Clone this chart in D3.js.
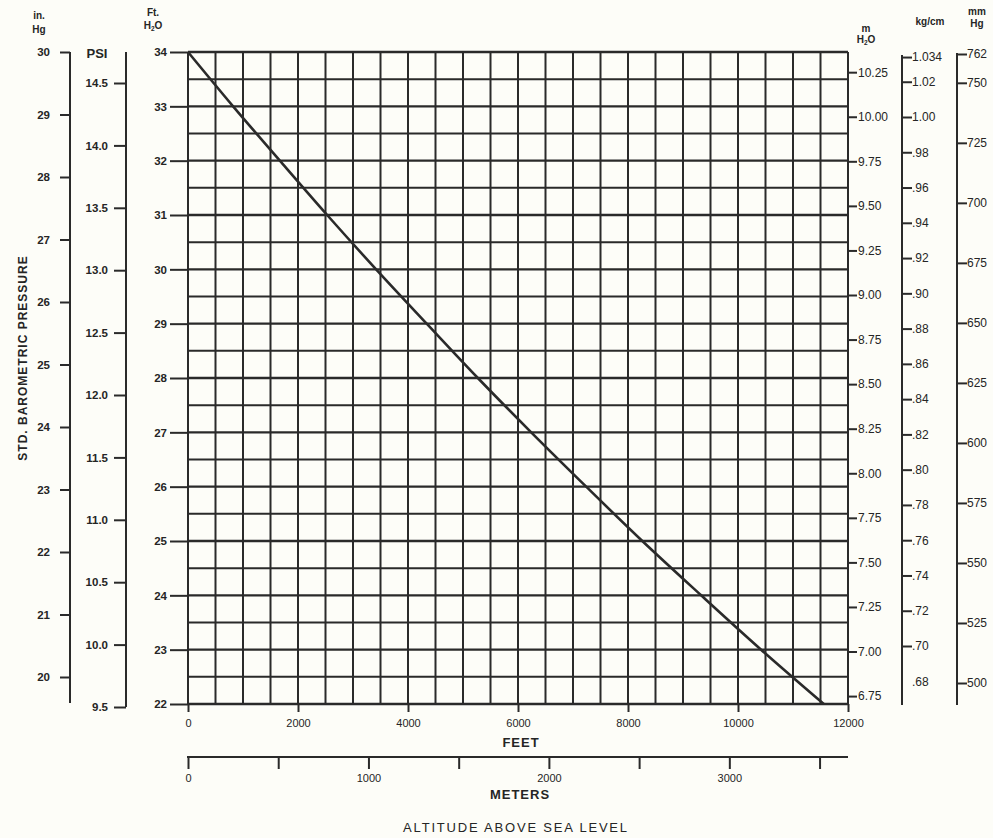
<!DOCTYPE html>
<html>
<head>
<meta charset="utf-8">
<script src="https://cdn.jsdelivr.net/npm/d3@7"></script>
<style>
  body { margin: 0; background: #fdfdf8; }
  svg { display: block; }
  text { font-family: "Liberation Sans", Arial, sans-serif; fill: #252525; }
  .left text { font-weight: bold; font-size: 11.5px; }
  .right text { font-size: 12px; }
  .bottom text { font-size: 11px; }
</style>
</head>
<body>
<script>
// values
var feetTicks = [0, 2000, 4000, 6000, 8000, 10000, 12000];
var meterTicks = [0, 500, 1000, 1500, 2000, 2500, 3000, 3500];
var ftH2OTicks = [22, 23, 24, 25, 26, 27, 28, 29, 30, 31, 32, 33, 34];
var inHgTicks = [20, 21, 22, 23, 24, 25, 26, 27, 28, 29, 30];
var psiTicks = [9.5, 10.0, 10.5, 11.0, 11.5, 12.0, 12.5, 13.0, 13.5, 14.0, 14.5];
var mH2OTicks = [10.25, 10.00, 9.75, 9.50, 9.25, 9.00, 8.75, 8.50, 8.25, 8.00, 7.75, 7.50, 7.25, 7.00, 6.75];
var kgTicks = [1.034, 1.02, 1.00, 0.98, 0.96, 0.94, 0.92, 0.90, 0.88, 0.86, 0.84, 0.82, 0.80, 0.78, 0.76, 0.74, 0.72, 0.70, 0.68];
var mmHgTicks = [762, 750, 725, 700, 675, 650, 625, 600, 575, 550, 525, 500];

// pressure line: altitude (ft) where it crosses each ft H2O line
var curveAltFt = [0, 820, 1670, 2530, 3420, 4340, 5270, 6240, 7240, 8260, 9330, 10420, 11560];
var curveFtH2O = [34, 33, 32, 31, 30, 29, 28, 27, 26, 25, 24, 23, 22];

var W = 993, H = 838;
var ink = "#2a2a2a";

var svg = d3.select("body").append("svg")
    .attr("width", W)
    .attr("height", H)
    .style("background", "#fdfdf8");

var x = d3.scaleLinear().domain([0, 12000]).range([188, 848]);
var xm = d3.scaleLinear().domain([0, 12000 * 0.3048]).range([188, 848]);
var y = d3.scaleLinear().domain([22, 34]).range([704, 52]);
var yIn = d3.scaleLinear().domain([20, 30]).range([677, 52]);
var yPsi = d3.scaleLinear().domain([9.5, 14.5]).range([707, 83]);
var yM = d3.scaleLinear().domain([22 * 0.3048, 34 * 0.3048]).range([704, 52]);
var yKg = d3.scaleLinear().domain([0.70, 1.00]).range([646, 117]);
var yMm = d3.scaleLinear().domain([500, 762]).range([683, 54]);

// grid
var grid = svg.append("g").attr("stroke", ink);
grid.selectAll(".v").data(d3.range(0, 12001, 500)).enter().append("line")
    .attr("x1", function(d){ return x(d); })
    .attr("x2", function(d){ return x(d); })
    .attr("y1", y(34)).attr("y2", y(22))
    .attr("stroke-width", 2);
grid.selectAll(".h").data(d3.range(22, 34.01, 0.5)).enter().append("line")
    .attr("x1", x(0)).attr("x2", x(12000))
    .attr("y1", function(d){ return y(d); })
    .attr("y2", function(d){ return y(d); })
    .attr("stroke-width", function(d){ return d % 1 === 0 ? 2.4 : 2; });

// style helper for axes
function styleAxis(g) {
  g.select(".domain").remove();
  g.selectAll(".tick line").attr("stroke", ink).attr("stroke-width", 2);
  g.selectAll(".tick text").attr("fill", "#252525");
}

// Ft H2O axis (left of grid)
svg.append("g").attr("class", "left")
    .attr("transform", "translate(" + x(0) + ",0)")
    .call(d3.axisLeft(y).tickValues(ftH2OTicks).tickSize(18).tickPadding(3).tickFormat(d3.format("d")))
    .call(styleAxis);

// PSI axis
var gPsi = svg.append("g").attr("class", "left").attr("transform", "translate(126,0)");
gPsi.append("line").attr("x1", 0).attr("x2", 0).attr("y1", y(34)).attr("y2", yPsi(9.5))
    .attr("stroke", ink).attr("stroke-width", 2);
gPsi.call(d3.axisLeft(yPsi).tickValues(psiTicks).tickSize(12).tickPadding(6).tickFormat(d3.format(".1f")))
    .call(styleAxis);

// in. Hg axis
var gIn = svg.append("g").attr("class", "left").attr("transform", "translate(70,0)");
gIn.append("line").attr("x1", 0).attr("x2", 0).attr("y1", yIn(30)).attr("y2", y(22) - 1)
    .attr("stroke", ink).attr("stroke-width", 2);
gIn.call(d3.axisLeft(yIn).tickValues(inHgTicks).tickSize(10).tickPadding(10).tickFormat(d3.format("d")))
    .call(styleAxis);

// m H2O axis (right edge of grid)
svg.append("g").attr("class", "right")
    .attr("transform", "translate(" + x(12000) + ",0)")
    .call(d3.axisRight(yM).tickValues(mH2OTicks).tickSize(9).tickPadding(1).tickFormat(d3.format(".2f")))
    .call(styleAxis);

// kg/cm axis
var gKg = svg.append("g").attr("class", "right").attr("transform", "translate(902,0)");
gKg.append("line").attr("x1", 0).attr("x2", 0).attr("y1", yKg(1.034) - 2).attr("y2", y(22) + 1)
    .attr("stroke", ink).attr("stroke-width", 2);
gKg.call(d3.axisRight(yKg).tickValues(kgTicks).tickSize(10).tickPadding(0)
        .tickFormat(function(d){
          if (d === 1.034) return "1.034";
          var s = d3.format(".2f")(d);
          return d < 1 ? s.slice(1) : s;
        }))
    .call(styleAxis);
gKg.selectAll(".tick").filter(function(d){ return d === 0.68; }).select("line").remove();

// mm Hg axis
var gMm = svg.append("g").attr("class", "right").attr("transform", "translate(957,0)");
gMm.append("line").attr("x1", 0).attr("x2", 0).attr("y1", yMm(762) - 1).attr("y2", y(22) + 1)
    .attr("stroke", ink).attr("stroke-width", 2);
gMm.call(d3.axisRight(yMm).tickValues(mmHgTicks).tickSize(10).tickPadding(0).tickFormat(d3.format("d")))
    .call(styleAxis);

// feet axis (bottom of grid)
svg.append("g").attr("class", "bottom")
    .attr("transform", "translate(0," + y(22) + ")")
    .call(d3.axisBottom(x).tickValues(feetTicks).tickSize(8).tickPadding(7).tickFormat(d3.format("d")))
    .call(styleAxis);

// meters axis
var gM = svg.append("g").attr("class", "bottom").attr("transform", "translate(0,757)");
gM.append("line").attr("x1", xm(0) - 1).attr("x2", x(12000)).attr("y1", 0).attr("y2", 0)
    .attr("stroke", ink).attr("stroke-width", 2);
gM.call(d3.axisBottom(xm).tickValues(meterTicks).tickSize(12).tickPadding(5)
        .tickFormat(function(d){ return d % 1000 === 0 ? d : ""; }))
    .call(styleAxis);

// pressure line
var pts = curveAltFt.map(function(a, i){ return [a, curveFtH2O[i]]; });
svg.append("path")
    .datum(pts)
    .attr("fill", "none")
    .attr("stroke", ink)
    .attr("stroke-width", 2.6)
    .attr("d", d3.line().x(function(d){ return x(d[0]); }).y(function(d){ return y(d[1]); }).curve(d3.curveMonotoneX));

// unit titles
function unitTitle(cx, lines) {
  var t = svg.append("text").attr("text-anchor", "middle")
      .style("font-size", "10px").style("font-weight", "bold");
  lines.forEach(function(l){
    var ts = t.append("tspan").attr("x", cx).attr("y", l.y);
    if (l.sub) {
      ts.text("H");
      ts.append("tspan").attr("font-size", "6.5px").attr("dy", 2).text("2");
      ts.append("tspan").attr("dy", -2).text("O");
    } else {
      ts.text(l.t);
    }
  });
}
unitTitle(39, [{t: "in.", y: 19}, {t: "Hg", y: 33}]);
unitTitle(153, [{t: "Ft.", y: 16}, {sub: true, y: 29}]);
unitTitle(866, [{t: "m", y: 32}, {sub: true, y: 43}]);
unitTitle(930, [{t: "kg/cm", y: 25}]);
unitTitle(977, [{t: "mm", y: 15}, {t: "Hg", y: 27}]);

svg.append("text").attr("x", 97).attr("y", 58).attr("text-anchor", "middle")
    .style("font-size", "13px").style("font-weight", "bold").text("PSI");

// axis titles
svg.append("text")
    .attr("transform", "translate(27,358) rotate(-90)")
    .attr("text-anchor", "middle")
    .style("font-size", "12px").style("font-weight", "bold").style("letter-spacing", "1px")
    .text("STD. BAROMETRIC PRESSURE");

svg.append("text").attr("x", 521).attr("y", 747).attr("text-anchor", "middle")
    .style("font-size", "13px").style("font-weight", "bold").style("letter-spacing", "1px")
    .text("FEET");
svg.append("text").attr("x", 520).attr("y", 799).attr("text-anchor", "middle")
    .style("font-size", "13px").style("font-weight", "bold").style("letter-spacing", "1px")
    .text("METERS");
svg.append("text").attr("x", 516).attr("y", 832).attr("text-anchor", "middle")
    .style("font-size", "13px").style("letter-spacing", "1.8px")
    .text("ALTITUDE ABOVE SEA LEVEL");
</script>
</body>
</html>
